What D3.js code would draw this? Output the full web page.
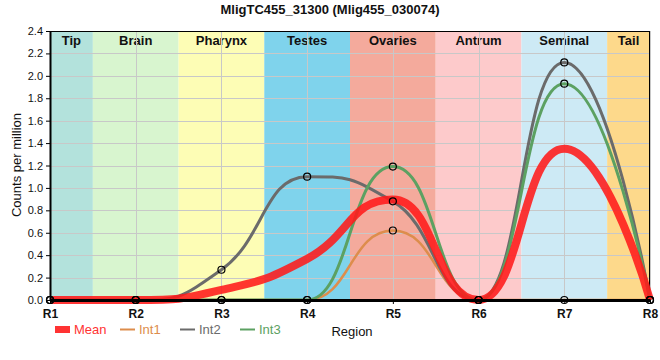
<!DOCTYPE html>
<html><head><meta charset="utf-8">
<script src="https://cdn.jsdelivr.net/npm/d3@7"></script>
<style>body{margin:0;background:#fff;font-family:"Liberation Sans",Arial,sans-serif}</style>
</head><body><svg id="c" width="660" height="360"></svg>
<script>
const categories = ["R1","R2","R3","R4","R5","R6","R7","R8"];
const regions = ["Tip","Brain","Pharynx","Testes","Ovaries","Antrum","Seminal","Tail"];
const regionColors = ["#b3e2dc","#d8f5cf","#fdfdb5","#7fd3ec","#f4aa9c","#fdcacb","#cdeaf5","#fdd98b"];
const int1 = [0,0,0,0,0.62,0,0,0];
const int2 = [0,0,0.27,1.10,0.88,0,2.12,0];
const int3 = [0,0,0,0,1.19,0,1.93,0];
const mean = int1.map((v,i)=>(v+int2[i]+int3[i])/3);
const yTicks = [0,0.2,0.4,0.6,0.8,1.0,1.2,1.4,1.6,1.8,2.0,2.2,2.4];

// spline curve: control points at half interval, clamped to avoid false extremes
function splineCurve(context){
  let pts=[];
  return {
    lineStart(){pts=[];},
    point(x,y){pts.push([+x,+y]);},
    lineEnd(){
      const s=1, den=s+1, n=pts.length;
      const ctrl=pts.map((p,i)=>{
        if(i===0||i===n-1) return null;
        const [px,py]=p,[lx,ly]=pts[i-1],[nx,ny]=pts[i+1];
        let lcx=(s*px+lx)/den, lcy=(s*py+ly)/den, rcx=(s*px+nx)/den, rcy=(s*py+ny)/den;
        const corr=((rcy-lcy)*(rcx-px))/(rcx-lcx)+py-rcy;
        lcy+=corr; rcy+=corr;
        if(lcy>ly&&lcy>py){lcy=Math.max(ly,py);rcy=2*py-lcy;}
        else if(lcy<ly&&lcy<py){lcy=Math.min(ly,py);rcy=2*py-lcy;}
        if(rcy>ny&&rcy>py){rcy=Math.max(ny,py);lcy=2*py-rcy;}
        else if(rcy<ny&&rcy<py){rcy=Math.min(ny,py);lcy=2*py-rcy;}
        return {lcx,lcy,rcx,rcy};
      });
      pts.forEach((p,i)=>{
        if(i===0){context.moveTo(p[0],p[1]);return;}
        const a=pts[i-1], ca=ctrl[i-1], cb=ctrl[i];
        context.bezierCurveTo(ca?ca.rcx:a[0], ca?ca.rcy:a[1], cb?cb.lcx:p[0], cb?cb.lcy:p[1], p[0], p[1]);
      });
    },
    areaStart(){},areaEnd(){}
  };
}

const svg = d3.select("#c");
const L=50,R=650,T=31,B=300;
const x = d3.scaleLinear().domain([0,categories.length-1]).range([L,R]);
const y = d3.scaleLinear().domain([0,2.4]).range([B,T]);

// bands
regions.forEach((r,i)=>{
  const x0 = x(Math.max(0,i-0.5)), x1 = x(Math.min(categories.length-1,i+0.5));
  svg.append("rect").attr("x",x0).attr("y",T).attr("width",x1-x0).attr("height",B-T).attr("fill",regionColors[i]);
  svg.append("text").attr("x",(x0+x1)/2).attr("y",45).attr("text-anchor","middle")
    .attr("font-size",13).attr("font-weight","bold").attr("fill","#111").text(r);
});
// grid
const g = svg.append("g").attr("stroke","#c8c8c8").attr("stroke-width",1);
yTicks.forEach(t=>g.append("line").attr("x1",L).attr("x2",R).attr("y1",Math.round(y(t))+0.5).attr("y2",Math.round(y(t))+0.5));
categories.forEach((c,i)=>g.append("line").attr("x1",Math.round(x(i))+0.5).attr("x2",Math.round(x(i))+0.5).attr("y1",T).attr("y2",B));

// frame
svg.append("rect").attr("x",L+0.5).attr("y",T+0.5).attr("width",R-L-1).attr("height",B-T-1).attr("fill","none").attr("stroke","#000").attr("stroke-width",1);

const line = d3.line().x((d,i)=>x(i)).y(d=>y(d)).curve(splineCurve);
const series = [
  {name:"Int1",data:int1,color:"#dd8d4c",w:2.5},
  {name:"Int2",data:int2,color:"#6b6b6b",w:3},
  {name:"Int3",data:int3,color:"#5ca162",w:3},
];
series.forEach(s=>{
  svg.append("path").attr("d",line(s.data)).attr("fill","none").attr("stroke",s.color).attr("stroke-width",s.w);
});
svg.append("path").attr("d",line(mean)).attr("fill","none").attr("stroke","#ff1a1a").attr("stroke-opacity",0.88).attr("stroke-width",8).attr("stroke-linecap","butt");

// axes
const yAxis = svg.append("g").attr("transform",`translate(${L},0)`).call(d3.axisLeft(y).tickValues(yTicks).tickFormat(d3.format(".1f")).tickSize(4).tickSizeOuter(0));
yAxis.select(".domain").attr("stroke-width",2);
yAxis.selectAll("text").attr("font-size",11).attr("fill","#111").attr("font-family","Liberation Sans,Arial,sans-serif");
const xAxis = svg.append("g").attr("transform",`translate(0,${B})`).call(d3.axisBottom(x).tickValues(d3.range(categories.length)).tickFormat(i=>categories[i]).tickSize(4).tickSizeOuter(0));
xAxis.select(".domain").attr("stroke-width",3);
xAxis.selectAll("text").attr("font-size",12).attr("font-weight","bold").attr("fill","#111").attr("dy","0.9em").attr("font-family","Liberation Sans,Arial,sans-serif");

// markers
series.forEach(s=>{
  svg.append("g").selectAll("circle").data(s.data).join("circle")
    .attr("cx",(d,i)=>x(i)).attr("cy",d=>y(d)).attr("r",3.5)
    .attr("fill","none").attr("stroke","#000").attr("stroke-width",1.2);
});

// title and labels
svg.append("text").attr("x",330).attr("y",14).attr("text-anchor","middle").attr("font-size",13).attr("font-weight","bold").attr("fill","#111").text("MligTC455_31300 (Mlig455_030074)");
svg.append("text").attr("transform","translate(21,165) rotate(-90)").attr("text-anchor","middle").attr("font-size",13).attr("fill","#111").text("Counts per million");
svg.append("text").attr("x",352).attr("y",336).attr("text-anchor","middle").attr("font-size",13).attr("fill","#111").text("Region");

// legend
const leg = [{name:"Mean",color:"#ff3333",rect:true},...series.map(s=>({name:s.name,color:s.color}))];
const legX = [55,120,180,240];
leg.forEach((l,i)=>{
  if(l.rect) svg.append("rect").attr("x",legX[i]).attr("y",326).attr("width",15).attr("height",7).attr("fill",l.color);
  else svg.append("line").attr("x1",legX[i]).attr("x2",legX[i]+15).attr("y1",329.5).attr("y2",329.5).attr("stroke",l.color).attr("stroke-width",2);
  svg.append("text").attr("x",legX[i]+19).attr("y",334).attr("font-size",13).attr("fill",l.color).text(l.name);
});
</script></body></html>
